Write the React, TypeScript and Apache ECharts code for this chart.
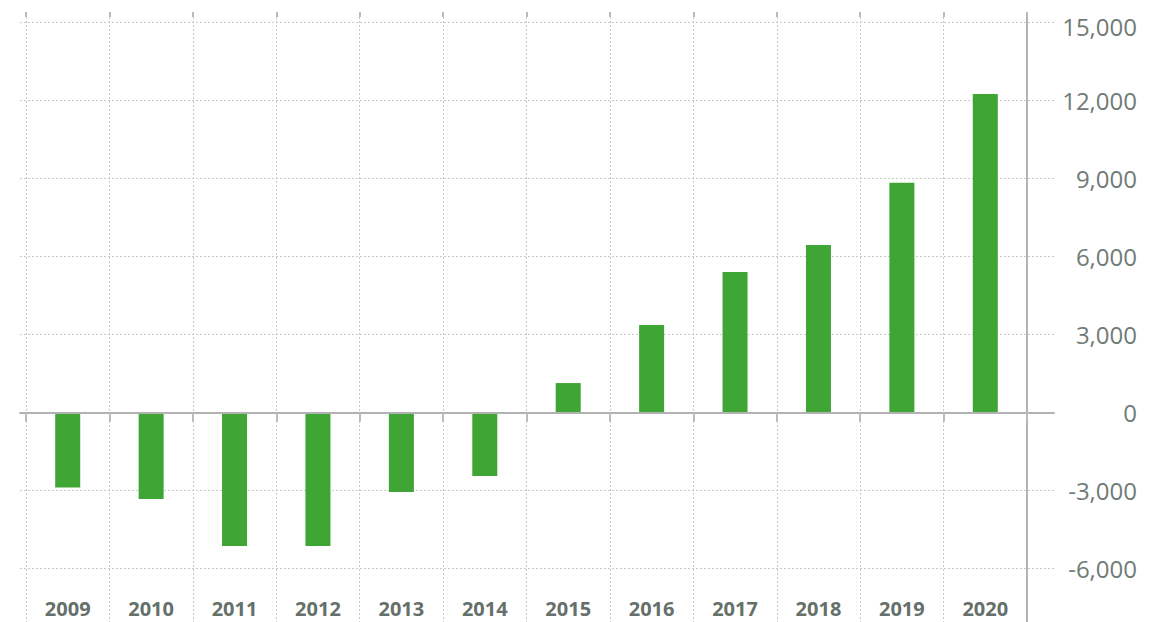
import React, { useEffect, useRef } from "react";
import * as echarts from "echarts";

const years = ["2009", "2010", "2011", "2012", "2013", "2014", "2015", "2016", "2017", "2018", "2019", "2020"];
const values = [-2880, -3320, -5130, -5130, -3050, -2430, 1140, 3370, 5410, 6450, 8840, 12260];

const Y_MIN = -9000;
const Y_MAX = 15000;
const Y_STEP = 3000;
const Y_MAX_B = 15219;

const GRID_LINE = { color: "#c9c9c9", width: 1, type: [2, 2] as number[] };
const AXIS_GRAY = "#b2b2b2";
const LABEL_GRAY = "#707b75";

export default function App() {
  const ref = useRef<HTMLDivElement>(null);
  useEffect(() => {
    if (!ref.current) return;
    const chart = echarts.init(ref.current, undefined, { renderer: "svg" });
    chart.setOption({
      animation: false,
      backgroundColor: "#ffffff",
      textStyle: { fontFamily: "'Open Sans', sans-serif" },
      grid: [
        { left: 20, width: 1034, top: 22.7, height: 624, outerBoundsMode: "none", containLabel: false },
        { left: 26, width: 1001, top: 17, height: 629.7, outerBoundsMode: "none", containLabel: false },
      ],
      xAxis: [
        {
          type: "value",
          gridIndex: 0,
          min: 0,
          max: 1,
          position: "bottom",
          z: 5,
          axisLine: { show: true, onZero: true, lineStyle: { color: AXIS_GRAY, width: 2 } },
          axisTick: { show: false },
          axisLabel: { show: false },
          splitLine: { show: false },
        },
        {
          type: "category",
          gridIndex: 1,
          data: years,
          position: "bottom",
          offset: -38.5,
          boundaryGap: true,
          axisLine: { show: false, onZero: false },
          axisTick: { show: false },
          axisLabel: {
            show: true,
            margin: 0,
            verticalAlign: "middle",
            color: "#65706a",
            fontSize: 20,
            lineHeight: 19,
            fontWeight: "bold",
            fontFamily: "'Open Sans', sans-serif",
          },
          splitLine: { show: true, lineStyle: GRID_LINE },
        },
        {
          type: "category",
          gridIndex: 1,
          data: years,
          position: "bottom",
          boundaryGap: true,
          z: 5,
          axisLine: { show: true, onZero: true, lineStyle: { color: AXIS_GRAY, opacity: 0 } },
          axisTick: { show: true, length: 9, lineStyle: { color: "#bbbbbb", width: 2 } },
          axisLabel: { show: false },
          splitLine: { show: false },
        },
        {
          type: "category",
          gridIndex: 1,
          data: years,
          position: "top",
          boundaryGap: true,
          z: 5,
          axisLine: { show: true, onZero: true, lineStyle: { color: AXIS_GRAY, opacity: 0 } },
          axisTick: { show: true, length: 5, lineStyle: { color: "#bbbbbb", width: 2 } },
          axisLabel: { show: false },
          splitLine: { show: false },
        },
      ],
      yAxis: [
        {
          type: "value",
          gridIndex: 0,
          min: Y_MIN,
          max: Y_MAX,
          interval: Y_STEP,
          position: "right",
          axisLine: { show: false, onZero: false },
          axisTick: { show: false },
          axisLabel: {
            show: true,
            showMinLabel: false,
            align: "right",
            margin: 83,
            color: LABEL_GRAY,
            fontSize: 24,
            fontFamily: "'Open Sans', sans-serif",
            formatter: (v: number) => {
              if (v <= Y_MIN) return "";
              const s = v.toLocaleString("en-US");
              return v >= Y_MAX ? "{top|" + s + "}" : s;
            },
            rich: {
              top: {
                padding: [8, 0, 0, 0],
                color: LABEL_GRAY,
                fontSize: 24,
                fontFamily: "'Open Sans', sans-serif",
              },
            },
          },
          splitLine: { show: true, lineStyle: GRID_LINE },
        },
        {
          type: "value",
          gridIndex: 1,
          min: Y_MIN,
          max: Y_MAX_B,
          position: "right",
          z: 5,
          axisLine: { show: true, onZero: false, lineStyle: { color: AXIS_GRAY, width: 2 } },
          axisTick: { show: false },
          axisLabel: { show: false },
          splitLine: { show: false },
        },
      ],
      series: [
        {
          type: "bar",
          xAxisIndex: 1,
          yAxisIndex: 1,
          data: values,
          barWidth: 25,
          itemStyle: { color: "#3fa535" },
        },
      ],
    });
    return () => chart.dispose();
  }, []);
  return (
    <div
      ref={ref}
      style={{ position: "fixed", left: 0, top: 0, width: 1169, height: 622 }}
    />
  );
}
